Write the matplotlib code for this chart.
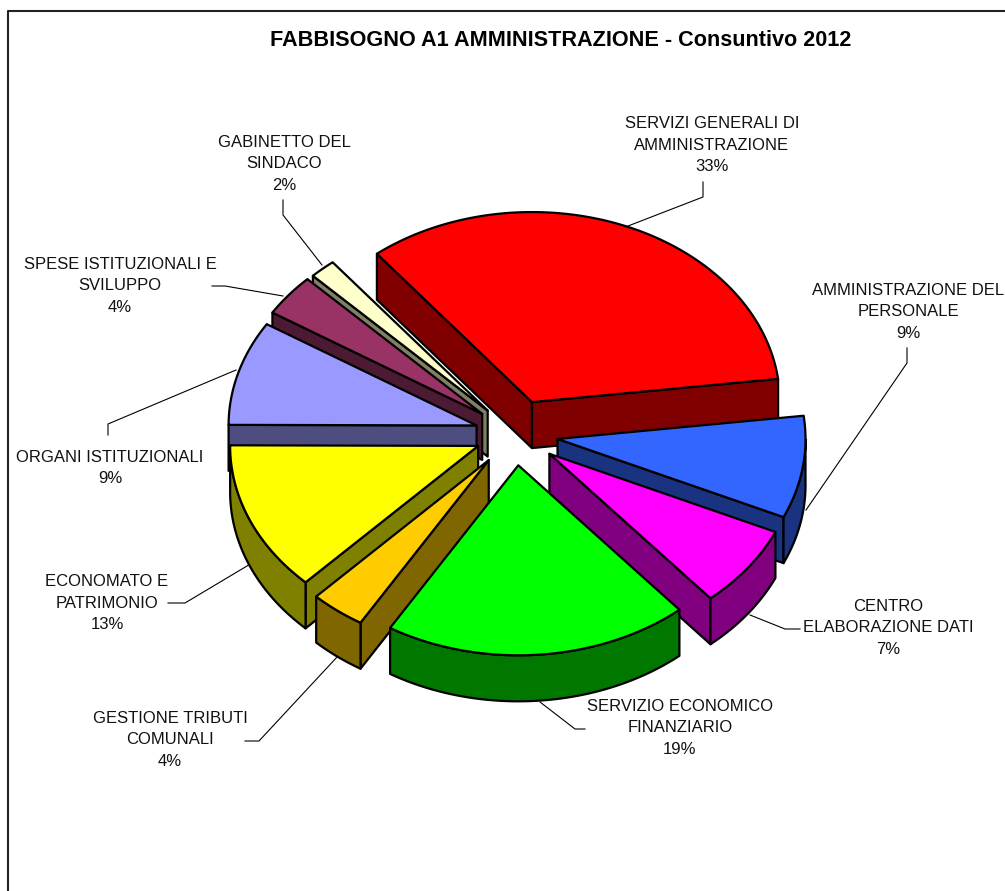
#!/bin/env python

import numpy as np
import matplotlib
matplotlib.use('Agg')
import matplotlib.pyplot as plt

plt.rcParams['font.family'] = ['Liberation Sans', 'DejaVu Sans']

title = 'FABBISOGNO A1 AMMINISTRAZIONE - Consuntivo 2012'
names = ['SERVIZI GENERALI DI\nAMMINISTRAZIONE', 'AMMINISTRAZIONE DEL\nPERSONALE',
         'CENTRO\nELABORAZIONE DATI', 'SERVIZIO ECONOMICO\nFINANZIARIO',
         'GESTIONE TRIBUTI\nCOMUNALI', 'ECONOMATO E\nPATRIMONIO',
         'ORGANI ISTITUZIONALI', 'SPESE ISTITUZIONALI E\nSVILUPPO', 'GABINETTO DEL\nSINDACO']
values = [33.8, 8.7, 7.0, 19.9, 3.6, 12.8, 8.9, 3.6, 1.7]
shown = ['33%', '9%', '7%', '19%', '4%', '13%', '9%', '4%', '2%']
colors = ['#FF0000', '#3366FF', '#FF00FF', '#00FF00', '#FFCC00', '#FFFF00', '#9999FF', '#993366', '#FFFFCC']
walls = ['#800000', '#1A3380', '#800080', '#007800', '#806600', '#808000', '#4D4D80', '#4D1A33', '#808066']
explode = [45, 43, 43, 41, 43, 40, 40, 42, 41]

# pie geometry in pixels
cx, cy = 515, 434
rx, ry = 248, 190
depth = 46
start = 128.7

label_pos = [(712, 145), (908, 312), (888, 628), (680, 728), (170, 740), (107, 603), (110, 468), (120, 286), (284, 164)]
leaders = [[(628, 226), (703, 197), (703, 182)],
           [(907, 348), (907, 363), (806, 510)],
           [(750, 615), (785, 629), (800, 629)],
           [(540, 702), (575, 729), (585, 729)],
           [(245, 741), (259, 741), (338, 656)],
           [(168, 603), (185, 603), (252, 563)],
           [(108, 435), (108, 424), (236, 370)],
           [(212, 286), (225, 286), (283, 296)],
           [(283, 200), (283, 215), (322, 265)]]

fig = plt.figure(figsize=(10.05, 8.91), dpi=100)
ax = fig.add_axes([0, 0, 1, 1])
ax.set_xlim(0, 1005)
ax.set_ylim(891, 0)
ax.axis('off')

# chart frame, runs off the right and bottom of the picture
ax.plot([7.5, 7.5, 1005], [891, 11, 11], color='#222222', lw=1.5, zorder=1)

for pts in leaders:
    ax.plot([p[0] for p in pts], [p[1] for p in pts], color='black', lw=0.8, zorder=2)

angles = start - np.cumsum([0] + values) * 3.6
mids = (angles[:-1] + angles[1:]) / 2
order = np.argsort(-np.sin(np.radians(mids)))

lw = 1.6
z = 3
for i in order:
    a0, a1 = angles[i], angles[i + 1]
    m = np.radians(mids[i])
    ax0 = cx + explode[i] * np.cos(m)
    ay0 = cy - explode[i] * np.sin(m) * ry / rx
    t = np.radians(np.linspace(a0, a1, 120))
    xs = ax0 + rx * np.cos(t)
    ys = ay0 - ry * np.sin(t)

    # cut faces, only the ones turned to the viewer
    if np.cos(t[0]) < 0:
        ax.fill([ax0, xs[0], xs[0], ax0], [ay0, ys[0], ys[0] + depth, ay0 + depth],
                fc=walls[i], ec='black', lw=lw, joinstyle='round', zorder=z)
    if np.cos(t[-1]) > 0:
        ax.fill([ax0, xs[-1], xs[-1], ax0], [ay0, ys[-1], ys[-1] + depth, ay0 + depth],
                fc=walls[i], ec='black', lw=lw, joinstyle='round', zorder=z)
    # outer wall
    front = np.sin(t) < 0
    if front.any():
        fx, fy = xs[front], ys[front]
        ax.fill(np.r_[fx, fx[::-1]], np.r_[fy, fy[::-1] + depth],
                fc=walls[i], ec='black', lw=lw, joinstyle='round', zorder=z)
    ax.fill(np.r_[ax0, xs], np.r_[ay0, ys], fc=colors[i], ec='black', lw=lw,
            joinstyle='round', zorder=z)
    z += 1

for name, pct, (x, y) in zip(names, shown, label_pos):
    ax.text(x, y, name + '\n' + pct, ha='center', va='center', fontsize=12,
            linespacing=1.58, color='#111111', zorder=30)

ax.text(561, 41, title, ha='center', va='center', fontsize=15.6, fontweight='bold', zorder=30)

fig.savefig('out.png', dpi=100)
